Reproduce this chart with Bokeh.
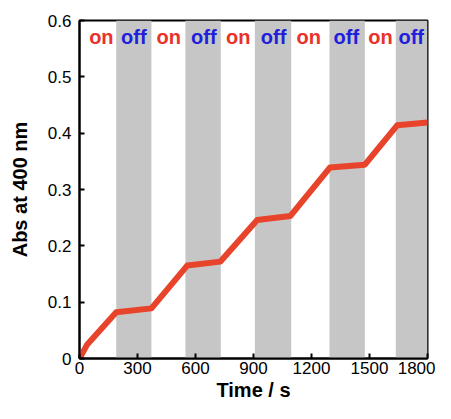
from bokeh.plotting import figure
from bokeh.models import Range1d, FixedTicker, ColumnDataSource
from bokeh.core.properties import value
from bokeh.embed import file_html
from bokeh.resources import INLINE

# Data
time_s = [0, 40, 190, 372, 557, 729, 919, 1091, 1295, 1476, 1643, 1800]
absorb = [0.0, 0.025, 0.082, 0.089, 0.165, 0.172, 0.246, 0.253, 0.339, 0.344, 0.414, 0.419]

band_start = [190, 548, 907, 1293, 1636]
band_end = [372, 731, 1095, 1476, 1800]

label_x = [113, 281, 462, 643, 821, 1004, 1186, 1380, 1557, 1716]
label_text = ["on", "off", "on", "off", "on", "off", "on", "off", "on", "off"]
label_y = 0.570

x_ticks = [0, 300, 600, 900, 1200, 1500, 1800]
y_ticks = [0, 0.1, 0.2, 0.3, 0.4, 0.5, 0.6]
y_tick_labels = ["0", "0.1", "0.2", "0.3", "0.4", "0.5", "0.6"]

FONT = "Liberation Sans"

p = figure(width=435, height=403, output_backend="svg", toolbar_location=None,
           x_range=Range1d(0, 1800), y_range=Range1d(0, 0.6),
           min_border_left=79, min_border_right=8, min_border_top=20, min_border_bottom=40)
p.xgrid.visible = False
p.ygrid.visible = False
p.outline_line_color = "black"
p.outline_line_width = 2
p.background_fill_color = "white"
p.border_fill_color = "white"

p.quad(left=band_start, right=band_end, bottom=0, top=0.6,
       fill_color="#c6c6c6", line_color=None)

p.line(time_s, absorb, line_color="#e8442b", line_width=6, line_join="round", line_cap="round")

colors = ["#e8322a" if t == "on" else "#2020dc" for t in label_text]
src = ColumnDataSource(dict(x=label_x, y=[label_y] * len(label_x), t=label_text, c=colors))
p.text(x="x", y="y", text="t", source=src, text_color="c",
       text_font=value(FONT), text_font_style="bold", text_font_size="20px",
       text_align="center", text_baseline="middle")

for ax in (p.xaxis[0], p.yaxis[0]):
    ax.major_tick_in = 5
    ax.major_tick_out = 0
    ax.minor_tick_in = 0
    ax.minor_tick_out = 0
    ax.axis_line_color = "black"
    ax.axis_line_width = 2
    ax.major_tick_line_width = 2
    ax.major_label_text_font = FONT
    ax.major_label_text_font_size = "17px"
    ax.major_label_text_color = "black"
    ax.axis_label_text_font = FONT
    ax.axis_label_text_font_style = "bold"
    ax.axis_label_text_font_size = "20px"
    ax.axis_label_text_color = "black"

p.xaxis[0].ticker = FixedTicker(ticks=x_ticks)
p.yaxis[0].ticker = FixedTicker(ticks=y_ticks)
p.yaxis[0].major_label_overrides = {t: l for t, l in zip(y_ticks, y_tick_labels)}
p.xaxis[0].axis_label = "Time / s"
p.yaxis[0].axis_label = "Abs at 400 nm"
p.xaxis[0].major_label_standoff = 3
p.yaxis[0].major_label_standoff = 8
p.xaxis[0].axis_label_standoff = 2
p.yaxis[0].axis_label_standoff = 14

open("out.html", "w").write(file_html(p, INLINE))
